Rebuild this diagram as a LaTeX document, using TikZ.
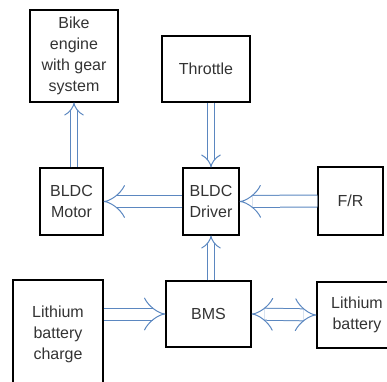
\documentclass[tikz,border=0pt]{standalone}
\usepackage{fontspec}
\setmainfont{Liberation Sans}
\usetikzlibrary{arrows.meta}
\definecolor{ArrowBlue}{HTML}{5B87C0}
\definecolor{TextGray}{HTML}{333333}

\tikzset{
  block/.style={draw=black, line width=1.1pt, align=center, text=TextGray,
    font=\fontsize{16}{21}\selectfont, inner sep=0pt},
  flow/.style={draw=ArrowBlue, double=white, line width=1pt,
    double distance=#1, -{Implies[length=7pt, width=#1+12pt]}},
}

\begin{document}
\begin{tikzpicture}[x=1pt, y=-1pt]
    \useasboundingbox (0,0) rectangle (387,381);
    \clip (0,0) rectangle (387,381);

    % top row
    \node[block, minimum width=88pt, minimum height=92pt] (engine) at (74,56) {Bike\\engine\\with gear\\system};
    \node[block, minimum width=88pt, minimum height=66pt] (throttle) at (206,69) {Throttle};

    % middle row
    \node[block, minimum width=63pt, minimum height=67pt] (motor) at (71.5,201.5) {BLDC\\Motor};
    \node[block, minimum width=56pt, minimum height=67pt] (driver) at (211,201.5) {BLDC\\Driver};
    \node[block, minimum width=65pt, minimum height=68pt] (fr) at (350.5,201) {F/R};

    % bottom row
    \node[block, minimum width=90pt, minimum height=108pt] (charge) at (58,334) {Lithium\\battery\\charge};
    \node[block, minimum width=85pt, minimum height=66pt] (bms) at (208.5,314) {BMS};
    \node[block, minimum width=80pt, minimum height=66pt] (battery) at (357,315) {Lithium\\battery};

    % connections
    \draw[flow=6pt] (motor.north -| engine) -- (engine.south);
    \draw[flow=6pt] (throttle.south -| driver) -- (driver.north);
    \draw[flow=11pt] (driver.west) -- (motor.east);
    \draw[flow=11pt] (fr.west) -- (driver.east);
    \draw[flow=6pt] (bms.north -| driver) -- (driver.south);
    \draw[flow=11pt] (charge.east |- bms) -- (bms.west);
    \draw[flow=11pt, {Implies[length=7pt, width=23pt]}-{Implies[length=7pt, width=23pt]}] (bms.east) -- (battery.west);
  \end{tikzpicture}
\end{document}
